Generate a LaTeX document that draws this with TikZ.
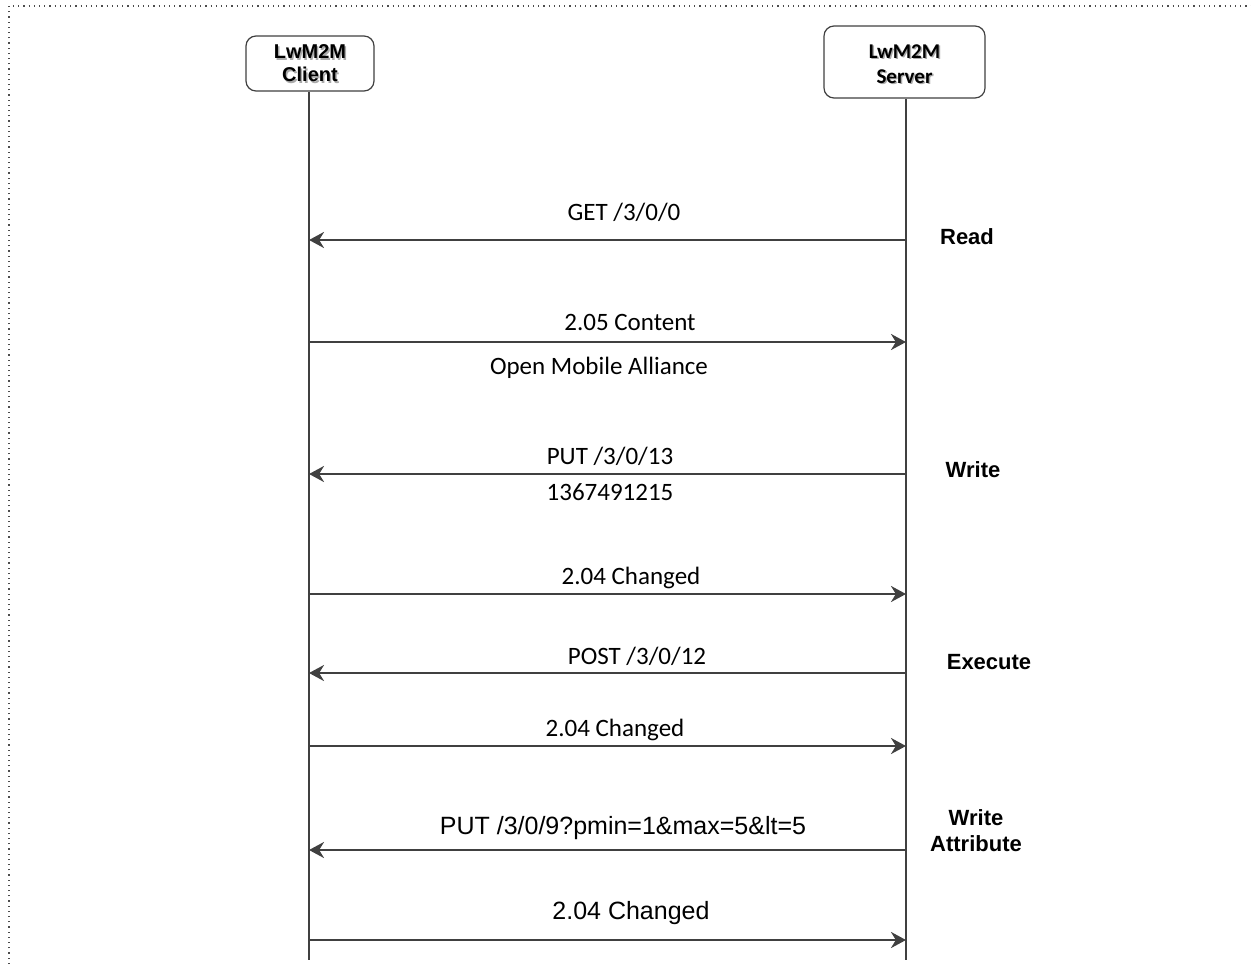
\documentclass[tikz,border=0pt]{standalone}
\usepackage{fontspec}
\setmainfont{Carlito}
\newfontfamily\arialfont{Liberation Sans}
\usetikzlibrary{arrows.meta,positioning}
\definecolor{linegray}{RGB}{64,64,64}
\definecolor{shadowgray}{RGB}{170,170,170}

\begin{document}
\begin{tikzpicture}[x=0.5pt,y=-0.5pt]

\tikzset{line/.style={draw,color=linegray,line width=1.3pt}}
\tikzset{arrow/.style={line,->,>={Stealth[length=7.5pt,width=8pt]}}}
\tikzset{textnode/.style={inner sep=0pt,font=\fontsize{12.5}{15}\selectfont}}
\tikzset{arialnode/.style={inner sep=0pt,font=\arialfont\fontsize{12.5}{15}\selectfont}}
\tikzset{opnode/.style={inner sep=0pt,align=center,font=\arialfont\bfseries\fontsize{11}{13}\selectfont}}
\tikzset{box/.style={draw=linegray,fill=white,line width=0.6pt,rounded corners=5pt,inner sep=0pt}}
\tikzset{clientfont/.style={inner sep=0pt,align=center,font=\arialfont\bfseries\fontsize{10}{11.5}\selectfont}}
\tikzset{serverfont/.style={inner sep=0pt,align=center,font=\bfseries\fontsize{10.5}{12.5}\selectfont}}
\tikzset{frame/.style={draw,dotted,color=black!70,line width=0.6pt}}

\useasboundingbox (0,0) rectangle (1251,964);

% page frame
\coordinate (frametl) at (9,6);
\coordinate (frametr) at (1251,6);
\coordinate (framebl) at (9,964);
\path[frame] (framebl) -- (frametl) -- (frametr);

% participants
\node[box,minimum width=64pt,minimum height=27.5pt] (client) at (310,63.5) {};
\node[clientfont,text=shadowgray] (clientshadow) at (311.5,65) {LwM2M\\Client};
\node[clientfont] (clienttext) at (310,63.5) {LwM2M\\Client};

\node[box,minimum width=80.5pt,minimum height=36pt] (server) at (904.5,62) {};
\node[serverfont,text=shadowgray] (servershadow) at (906,65.5) {LwM2M\\Server};
\node[serverfont] (servertext) at (904.5,64) {LwM2M\\Server};

% lifelines
\coordinate (clientend) at (309,960);
\coordinate (serverend) at (906,960);
\path[line] (client.south -| clientend) -- (clientend);
\path[line] (server.south -| serverend) -- (serverend);

% messages
\coordinate (get-s) at (906,240);
\coordinate (get-c) at (309,240);
\coordinate (content-c) at (309,342);
\coordinate (content-s) at (906,342);
\coordinate (put-s) at (906,474);
\coordinate (put-c) at (309,474);
\coordinate (changed-c) at (309,594);
\coordinate (changed-s) at (906,594);
\coordinate (post-s) at (906,673);
\coordinate (post-c) at (309,673);
\coordinate (changedb-c) at (309,746);
\coordinate (changedb-s) at (906,746);
\coordinate (attr-s) at (906,850);
\coordinate (attr-c) at (309,850);
\coordinate (changedc-c) at (309,940);
\coordinate (changedc-s) at (906,940);

\path[arrow] (get-s) -- (get-c);
\path[arrow] (content-c) -- (content-s);
\path[arrow] (put-s) -- (put-c);
\path[arrow] (changed-c) -- (changed-s);
\path[arrow] (post-s) -- (post-c);
\path[arrow] (changedb-c) -- (changedb-s);
\path[arrow] (attr-s) -- (attr-c);
\path[arrow] (changedc-c) -- (changedc-s);

\node[textnode] (getlabel) at (624,212) {GET /3/0/0};
\node[textnode] (contentlabel) at (630,322) {2.05 Content};
\node[textnode] (omalabel) at (599,368) {Open Mobile Alliance};
\node[textnode] (putlabel) at (610,456) {PUT /3/0/13};
\node[textnode] (timelabel) at (610,492) {1367491215};
\node[textnode] (changedlabel) at (631,578) {2.04 Changed};
\node[textnode] (postlabel) at (637,656) {POST /3/0/12};
\node[textnode] (changedblabel) at (615,730) {2.04 Changed};
\node[arialnode] (attrlabel) at (623,828) {PUT /3/0/9?pmin=1\&max=5\&lt=5};
\node[arialnode] (changedclabel) at (631,913) {2.04 Changed};

% operations
\node[opnode] (read) at (967,237) {Read};
\node[opnode] (write) at (973,470) {Write};
\node[opnode] (execute) at (989,662) {Execute};
\node[opnode] (writeattr) at (976,831) {Write\\Attribute};

\end{tikzpicture}
\end{document}
